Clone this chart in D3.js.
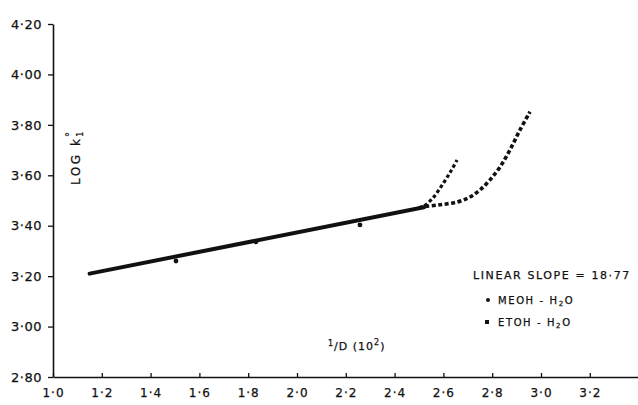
<!DOCTYPE html>
<html>
<head>
<meta charset="utf-8">
<script src="https://cdn.jsdelivr.net/npm/d3@7"></script>
<style>
  html, body { margin: 0; padding: 0; background: #fff; }
  svg { display: block; }
  text { font-family: "DejaVu Sans", "Liberation Sans", sans-serif; fill: #111; stroke: #111; stroke-width: 0.25; }
</style>
</head>
<body>
<svg id="chart" width="638" height="405"></svg>
<script>
// ---- data ----
const xTicks = [1.0, 1.2, 1.4, 1.6, 1.8, 2.0, 2.2, 2.4, 2.6, 2.8, 3.0, 3.2];
const xTickLabels = ["1·0", "1·2", "1·4", "1·6", "1·8", "2·0", "2·2", "2·4", "2·6", "2·8", "3·0", "3·2"];
const yTicks = [2.8, 3.0, 3.2, 3.4, 3.6, 3.8, 4.0, 4.2];
const yTickLabels = ["2·80", "3·00", "3·20", "3·40", "3·60", "3·80", "4·00", "4·20"];

// common linear part (1/D vs log k)
const linearX = [1.15, 2.52];
const linearY = [3.210, 3.473];
// measured points on the linear part
const linearPtsX = [1.504, 1.832, 2.258];
const linearPtsY = [3.260, 3.336, 3.403];

// MeOH - H2O branch (steep, short)
const meohX = [2.50, 2.516, 2.557, 2.598, 2.631, 2.656];
const meohY = [3.470, 3.475, 3.510, 3.566, 3.617, 3.661];
// EtOH - H2O branch (long)
const etohX = [2.50, 2.516, 2.586, 2.656, 2.709, 2.750, 2.791, 2.832, 2.873, 2.914, 2.955];
const etohY = [3.470, 3.475, 3.483, 3.494, 3.514, 3.542, 3.582, 3.633, 3.701, 3.780, 3.852];

const legendLines = ["LINEAR SLOPE = 18·77"];

// ---- layout ----
const svg = d3.select("#chart");
const x = d3.scaleLinear().domain([1.0, 3.4]).range([53, 638.6]);
const y = d3.scaleLinear().domain([2.8, 4.2]).range([377, 24]);

// axes
const xAxis = d3.axisBottom(x).tickValues(xTicks)
  .tickFormat((d, i) => xTickLabels[i]).tickSizeInner(-4).tickSizeOuter(0).tickPadding(11);
const gx = svg.append("g").attr("transform", `translate(0,${y(2.8)})`).call(xAxis);
gx.select(".domain").attr("stroke", "#111").attr("stroke-width", 1.6);
gx.selectAll(".tick line").attr("stroke", "#111").attr("stroke-width", 1.3);
gx.selectAll(".tick text").attr("font-size", 12).attr("fill", "#222").attr("letter-spacing", 1);

const yAxis = d3.axisLeft(y).tickValues(yTicks)
  .tickFormat((d, i) => yTickLabels[i]).tickSizeInner(5).tickSizeOuter(0).tickPadding(6);
const gy = svg.append("g").attr("transform", `translate(${x(1.0)},0)`).call(yAxis);
gy.select(".domain").attr("stroke", "#111").attr("stroke-width", 1.6);
gy.selectAll(".tick line").attr("stroke", "#111").attr("stroke-width", 1.3);
gy.selectAll(".tick text").attr("font-size", 13).attr("fill", "#111").attr("letter-spacing", 0.5);
svg.selectAll("g.tick text").attr("font-family", "DejaVu Sans, sans-serif");

// axis titles
const yt = svg.append("text")
  .attr("transform", `translate(80,157) rotate(-90)`)
  .attr("text-anchor", "middle").attr("font-size", 12).attr("letter-spacing", 2.5);
yt.append("tspan").text("LOG k");
yt.append("tspan").attr("font-size", 8).attr("dy", 3).text("1");
yt.append("tspan").attr("font-size", 10).attr("dy", -10).attr("dx", -8).text("°");

const xt = svg.append("text").attr("x", 328).attr("y", 350).attr("font-size", 11).attr("letter-spacing", 1);
xt.append("tspan").attr("font-size", 8).attr("dy", -4).text("1");
xt.append("tspan").attr("dy", 4).text("/D  (10");
xt.append("tspan").attr("font-size", 8).attr("dy", -5).text("2");
xt.append("tspan").attr("dy", 5).text(")");

// linear part
const line = d3.line().x(d => x(d[0])).y(d => y(d[1]));
svg.append("path")
  .attr("d", line(linearX.map((v, i) => [v, linearY[i]])))
  .attr("fill", "none").attr("stroke", "#111").attr("stroke-width", 4).attr("stroke-linecap", "round");
svg.selectAll("circle.lin").data(linearPtsX.map((v, i) => [v, linearPtsY[i]]))
  .join("circle").attr("class", "lin")
  .attr("cx", d => x(d[0])).attr("cy", d => y(d[1])).attr("r", 2.4).attr("fill", "#111");

// curved branches
const curve = d3.line().x(d => x(d[0])).y(d => y(d[1])).curve(d3.curveCatmullRom);
svg.append("path")
  .attr("d", curve(meohX.map((v, i) => [v, meohY[i]])))
  .attr("fill", "none").attr("stroke", "#111").attr("stroke-width", 3.2)
  .attr("stroke-dasharray", "3.5,2.5");
svg.append("path")
  .attr("d", curve(etohX.map((v, i) => [v, etohY[i]])))
  .attr("fill", "none").attr("stroke", "#111").attr("stroke-width", 3.6)
  .attr("stroke-dasharray", "4,2.5");

// legend
svg.append("text").attr("x", 473).attr("y", 279).attr("font-size", 11)
  .attr("letter-spacing", 1.6).text(legendLines[0]);
svg.append("circle").attr("cx", 488).attr("cy", 300).attr("r", 2).attr("fill", "#111");
const l1 = svg.append("text").attr("x", 498).attr("y", 304).attr("font-size", 10).attr("letter-spacing", 1.6);
l1.append("tspan").text("MEOH - H");
l1.append("tspan").attr("font-size", 7).attr("dy", 2).text("2");
l1.append("tspan").attr("dy", -2).text("O");
svg.append("rect").attr("x", 485).attr("y", 320).attr("width", 4).attr("height", 4).attr("fill", "#111");
const l2 = svg.append("text").attr("x", 498).attr("y", 326).attr("font-size", 10).attr("letter-spacing", 1.6);
l2.append("tspan").text("ETOH  - H");
l2.append("tspan").attr("font-size", 7).attr("dy", 2).text("2");
l2.append("tspan").attr("dy", -2).text("O");
</script>
</body>
</html>
